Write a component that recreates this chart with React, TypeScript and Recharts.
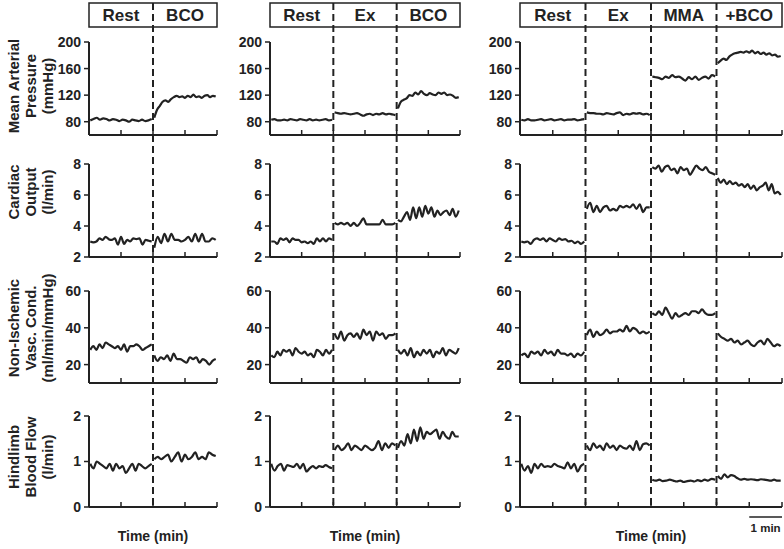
import React from 'react';
import { LineChart, Line, XAxis, YAxis, ReferenceLine, ReferenceArea } from 'recharts';

const FONT = '"Liberation Sans", Arial, Helvetica, sans-serif';
const INK = '#222';

// ---------- categories / labels ----------
const phases1 = ['Rest', 'BCO'];
const phases2 = ['Rest', 'Ex', 'BCO'];
const phases3 = ['Rest', 'Ex', 'MMA', '+BCO'];
const xTicks1 = [0, 1, 2, 3, 4];
const xTicks2 = [0, 1, 2, 3, 4, 5, 6];
const xTicks3 = [0, 1, 2, 3, 4, 5, 6, 7, 8];
const mapTicks = [80, 120, 160, 200];
const coTicks = [2, 4, 6, 8];
const nivcTicks = [20, 40, 60];
const hbfTicks = [0, 1, 2];
const rowLabels = [
  ['Mean Arterial', 'Pressure', '(mmHg)'],
  ['Cardiac', 'Output', '(l/min)'],
  ['Non-Ischemic', 'Vasc. Cond.', '(ml/min/mmHg)'],
  ['Hindlimb', 'Blood Flow', '(l/min)'],
];

// ---------- series (one sub-array per phase) ----------
// Column 1: Rest | BCO
const map1 = [
  [82, 84, 86, 83, 85, 84, 82, 84, 83, 81, 83, 82, 80, 83, 82, 81, 83, 81, 82, 84],
  [86, 98, 104, 110, 112, 110, 114, 117, 119, 117, 118, 116, 119, 117, 121, 117, 118, 116, 119, 120, 117, 119, 118],
];
const co1 = [
  [3.0, 2.95, 3.0, 3.2, 3.1, 3.3, 3.15, 3.1, 3.2, 2.8, 3.3, 2.85, 3.1, 3.0, 3.2, 3.15, 3.2, 2.8, 3.1, 3.05, 3.0],
  [2.6, 3.3, 2.9, 3.5, 3.0, 3.5, 3.1, 3.1, 3.0, 3.1, 3.3, 3.0, 3.5, 3.0, 3.5, 3.0, 3.0, 3.2, 3.1],
];
const nivc1 = [
  [28, 30, 28, 31, 29, 32, 31, 30, 29, 30, 28, 31, 27, 30, 30, 31, 30, 28, 29, 30, 31],
  [25, 22, 24, 23, 25, 22, 26, 23, 23, 22, 21, 24, 23, 24, 21, 23, 22, 20, 22, 23],
];
const hbf1 = [
  [0.95, 0.85, 1.0, 0.95, 0.9, 0.85, 0.95, 0.8, 0.95, 0.85, 0.9, 0.75, 0.85, 0.95, 0.8, 0.95, 0.9, 0.85, 0.9, 0.95],
  [1.05, 1.1, 1.05, 1.1, 1.15, 1.0, 1.1, 1.2, 1.0, 1.15, 1.05, 1.1, 1.2, 1.05, 1.1, 1.05, 1.2, 1.15, 1.12],
];

// Column 2: Rest | Ex | BCO
const map2 = [
  [83, 84, 82, 82, 83, 82, 84, 83, 82, 84, 83, 82, 84, 82, 83, 82, 83, 84, 82, 83],
  [94, 93, 92, 93, 92, 91, 92, 93, 91, 89, 91, 92, 90, 92, 91, 93, 91, 92, 91, 90],
  [100, 110, 113, 115, 120, 119, 124, 121, 126, 122, 120, 123, 121, 120, 124, 122, 124, 120, 121, 119, 116, 117],
];
const co2 = [
  [3.0, 3.0, 2.85, 3.2, 3.1, 3.2, 2.95, 3.2, 3.1, 3.1, 2.95, 3.0, 2.9, 3.0, 2.85, 3.2, 3.0, 3.2, 3.0, 3.2, 3.1],
  [4.2, 4.1, 4.2, 4.1, 4.2, 4.0, 4.2, 4.0, 4.2, 4.5, 4.1, 4.1, 4.1, 4.1, 4.1, 4.4, 4.1, 4.1, 4.1, 4.2],
  [4.4, 4.3, 4.6, 4.9, 4.4, 5.2, 4.5, 5.2, 4.6, 5.3, 4.8, 5.2, 4.6, 5.0, 4.7, 4.9, 5.0, 4.7, 5.1, 4.6, 5.0],
];
const nivc2 = [
  [25, 24, 27, 25, 28, 27, 28, 25, 29, 27, 26, 27, 25, 26, 24, 28, 27, 25, 28, 26, 28],
  [37, 34, 38, 33, 36, 37, 35, 37, 34, 39, 36, 38, 33, 38, 36, 37, 34, 36, 36, 37],
  [28, 26, 28, 25, 29, 24, 27, 25, 28, 26, 28, 24, 27, 26, 29, 25, 28, 27, 26, 29],
];
const hbf2 = [
  [0.95, 0.8, 0.9, 0.95, 0.8, 0.92, 0.9, 0.88, 0.95, 0.85, 0.95, 0.78, 0.85, 0.9, 0.85, 0.9, 0.88, 0.92, 0.88, 0.85],
  [1.25, 1.35, 1.25, 1.3, 1.4, 1.25, 1.35, 1.3, 1.25, 1.35, 1.3, 1.25, 1.3, 1.45, 1.25, 1.4, 1.3, 1.4, 1.35],
  [1.3, 1.45, 1.35, 1.6, 1.4, 1.7, 1.45, 1.75, 1.5, 1.65, 1.6, 1.65, 1.7, 1.5, 1.65, 1.55, 1.5, 1.65, 1.55, 1.55],
];

// Column 3: Rest | Ex | MMA | +BCO
const map3 = [
  [83, 82, 84, 82, 82, 83, 84, 82, 83, 84, 82, 83, 84, 82, 83, 83, 84, 82, 83, 84],
  [94, 93, 93, 92, 92, 91, 93, 92, 91, 93, 94, 90, 92, 91, 93, 92, 93, 91, 92, 90],
  [148, 147, 146, 144, 148, 146, 150, 147, 148, 145, 142, 147, 144, 148, 143, 146, 148, 145, 150, 148],
  [168, 172, 175, 173, 178, 181, 183, 184, 185, 184, 186, 184, 187, 183, 185, 182, 184, 181, 183, 180, 181, 178, 179],
];
const co3 = [
  [3.0, 2.95, 3.0, 2.85, 3.1, 3.2, 3.1, 3.2, 3.0, 3.2, 3.1, 3.0, 3.2, 3.1, 3.15, 3.0, 3.05, 2.9, 3.0, 2.85, 3.0],
  [5.1, 5.5, 4.9, 5.3, 4.9, 5.2, 5.3, 5.0, 5.1, 5.0, 5.3, 5.2, 5.3, 5.2, 5.4, 5.1, 5.4, 4.9, 5.2, 5.2],
  [7.8, 7.7, 7.9, 7.5, 7.8, 7.9, 7.6, 7.7, 7.4, 7.8, 7.6, 7.7, 7.3, 7.6, 7.9, 7.7, 7.6, 7.8, 7.5, 7.4, 7.3],
  [7.1, 6.8, 7.0, 6.7, 6.9, 6.7, 6.8, 6.6, 6.7, 6.5, 6.7, 6.4, 6.6, 6.3, 6.5, 6.6, 6.8, 6.3, 6.7, 6.1, 6.2, 6.0],
];
const nivc3 = [
  [25, 26, 24, 27, 26, 27, 25, 28, 26, 27, 25, 28, 26, 26, 25, 26, 24, 26, 25, 27],
  [36, 39, 35, 38, 36, 37, 39, 37, 38, 38, 39, 38, 41, 38, 40, 39, 37, 38, 37, 38],
  [48, 47, 49, 47, 51, 48, 45, 48, 46, 47, 48, 47, 49, 49, 48, 50, 48, 47, 47, 48],
  [37, 35, 34, 33, 34, 32, 33, 31, 32, 33, 31, 30, 32, 33, 31, 34, 32, 30, 31, 30],
];
const hbf3 = [
  [0.95, 0.8, 0.9, 0.75, 0.95, 0.85, 0.95, 0.88, 0.9, 0.88, 0.95, 0.9, 0.88, 0.85, 0.98, 0.85, 0.95, 0.78, 0.9, 0.95],
  [1.35, 1.25, 1.4, 1.3, 1.35, 1.25, 1.4, 1.3, 1.35, 1.25, 1.35, 1.3, 1.28, 1.35, 1.25, 1.45, 1.25, 1.38, 1.4, 1.35],
  [0.6, 0.58, 0.6, 0.57, 0.58, 0.6, 0.58, 0.56, 0.58, 0.55, 0.57, 0.58, 0.56, 0.59, 0.57, 0.6, 0.58, 0.62, 0.6],
  [0.68, 0.62, 0.72, 0.65, 0.7, 0.68, 0.63, 0.6, 0.62, 0.6, 0.61, 0.6, 0.59, 0.61, 0.6, 0.59, 0.58, 0.6, 0.58, 0.58],
];

// ---------- layout ----------
const COLS = [
  { x0: 89, x1: 217, dur: 4, ticks: xTicks1, phases: phases1, series: [map1, co1, nivc1, hbf1] },
  { x0: 270, x1: 460, dur: 6, ticks: xTicks2, phases: phases2, series: [map2, co2, nivc2, hbf2] },
  { x0: 520, x1: 782, dur: 8, ticks: xTicks3, phases: phases3, series: [map3, co3, nivc3, hbf3] },
];
const ROWS = [
  { top: 42, bottom: 135, domain: [60, 200], ticks: mapTicks, labelY: 86 },
  { top: 164, bottom: 257, domain: [2, 8], ticks: coTicks, labelY: 192 },
  { top: 291, bottom: 383, domain: [10, 60], ticks: nivcTicks, labelY: 328 },
  { top: 416, bottom: 507, domain: [0, 2], ticks: hbfTicks, labelY: 457 },
];
const PAGE_W = 784;
const PAGE_H = 549;

function buildSeries(segments: number[][]) {
  const rows: { t: number; v: number | null }[] = [];
  segments.forEach((seg, k) => {
    if (k > 0) rows.push({ t: 2 * k, v: null });
    const n = seg.length;
    seg.forEach((v, i) => rows.push({ t: 2 * k + 0.04 + (i * 1.92) / (n - 1), v }));
  });
  return rows;
}

// inward (upward) x-axis tick mark drawn at the library's tick position
function UpTick(props: any) {
  const { x, y } = props;
  return <line x1={x} x2={x} y1={y} y2={y - 5} stroke={INK} strokeWidth={1.5} />;
}

function Panel({ col, row }: { col: number; row: number }) {
  const c = COLS[col];
  const r = ROWS[row];
  const YW = 50, RM = 6, TM = 10, XH = 12;
  const w = c.x1 - c.x0 + YW + RM;
  const h = r.bottom - r.top + TM + XH;
  return (
    <div style={{ position: 'absolute', left: c.x0 - YW, top: r.top - TM, width: w, height: h }}>
      <LineChart width={w} height={h} data={buildSeries(c.series[row])} margin={{ top: TM, right: RM, bottom: 0, left: 0 }}>
        <XAxis
          dataKey="t"
          type="number"
          domain={[0, c.dur]}
          ticks={c.ticks}
          interval={0}
          tick={UpTick}
          tickLine={false}
          tickSize={0}
          tickMargin={0}
          height={XH}
          allowDataOverflow
          axisLine={{ stroke: INK, strokeWidth: 2 }}
        />
        <YAxis
          type="number"
          domain={r.domain}
          ticks={r.ticks}
          interval={0}
          width={YW}
          tickSize={5}
          tickMargin={3}
          allowDataOverflow
          axisLine={{ stroke: INK, strokeWidth: 2 }}
          tickLine={{ stroke: INK, strokeWidth: 1.5 }}
          tick={{ fill: INK, fontSize: 14, fontWeight: 'bold', fontFamily: FONT }}
        />
        <Line
          dataKey="v"
          type="monotone"
          stroke={INK}
          strokeWidth={2.2}
          dot={false}
          connectNulls={false}
          isAnimationActive={false}
        />
      </LineChart>
    </div>
  );
}

function Overlay({ col }: { col: number }) {
  const c = COLS[col];
  const PAD = 6;
  const w = c.x1 - c.x0 + 2 * PAD;
  const bounds = c.phases.slice(1).map((_, i) => 2 * (i + 1));
  return (
    <div style={{ position: 'absolute', left: c.x0 - PAD, top: 0, width: w, height: PAGE_H }}>
      <LineChart width={w} height={PAGE_H} data={[{ t: 0, y: 0 }, { t: c.dur, y: PAGE_H }]} margin={{ top: 0, right: PAD, bottom: 0, left: PAD }}>
        <XAxis dataKey="t" type="number" domain={[0, c.dur]} hide />
        <YAxis type="number" domain={[0, PAGE_H]} reversed hide />
        <Line dataKey="y" stroke="none" dot={false} activeDot={false} isAnimationActive={false} />
        <ReferenceArea x1={0} x2={c.dur} y1={3} y2={27} fill="none" stroke={INK} strokeWidth={1.5} ifOverflow="visible" />
        {c.phases.map((p, i) => (
          <ReferenceArea
            key={p}
            x1={2 * i}
            x2={2 * i + 2}
            y1={3}
            y2={27}
            fill="none"
            stroke="none"
            ifOverflow="visible"
            label={{ value: p, position: 'center', fill: INK, fontSize: 17, fontWeight: 'bold', fontFamily: FONT }}
          />
        ))}
        {bounds.map((b) => (
          <ReferenceLine
            key={b}
            segment={[{ x: b, y: 3 }, { x: b, y: 507 }]}
            stroke={INK}
            strokeWidth={2}
            strokeDasharray="7 4"
            ifOverflow="visible"
          />
        ))}
        {col === 2 && (
          <ReferenceLine segment={[{ x: c.dur - 1, y: 517 }, { x: c.dur, y: 517 }]} stroke={INK} strokeWidth={1.5} ifOverflow="visible" />
        )}
        {col === 2 && (
          <ReferenceArea
            x1={c.dur - 1}
            x2={c.dur}
            y1={521}
            y2={534}
            fill="none"
            stroke="none"
            ifOverflow="visible"
            label={{ value: '1 min', position: 'center', fill: INK, fontSize: 11.5, fontWeight: 'bold', fontFamily: FONT }}
          />
        )}
      </LineChart>
    </div>
  );
}

const labelXs = [13, 30, 47];

export default function App() {
  return (
    <div style={{ position: 'absolute', left: 0, top: 0, width: PAGE_W, height: PAGE_H, background: '#fff', overflow: 'hidden' }}>
      {COLS.map((_, ci) => ROWS.map((__, ri) => <Panel key={`${ci}-${ri}`} col={ci} row={ri} />))}
      {COLS.map((_, ci) => <Overlay key={`o${ci}`} col={ci} />)}
      <svg width={PAGE_W} height={PAGE_H} style={{ position: 'absolute', left: 0, top: 0, pointerEvents: 'none' }}>
        {ROWS.map((r, ri) =>
          rowLabels[ri].map((txt, li) => (
            <text
              key={`${ri}-${li}`}
              x={labelXs[li]}
              y={r.labelY}
              transform={`rotate(-90, ${labelXs[li]}, ${r.labelY})`}
              textAnchor="middle"
              dominantBaseline="central"
              fontFamily={FONT}
              fontWeight="bold"
              fontSize={15}
              fill={INK}
            >
              {txt}
            </text>
          ))
        )}
        {COLS.map((c, ci) => (
          <text
            key={`t${ci}`}
            x={(c.x0 + c.x1) / 2}
            y={536}
            textAnchor="middle"
            dominantBaseline="central"
            fontFamily={FONT}
            fontWeight="bold"
            fontSize={14}
            fill={INK}
          >
            Time (min)
          </text>
        ))}
      </svg>
    </div>
  );
}
